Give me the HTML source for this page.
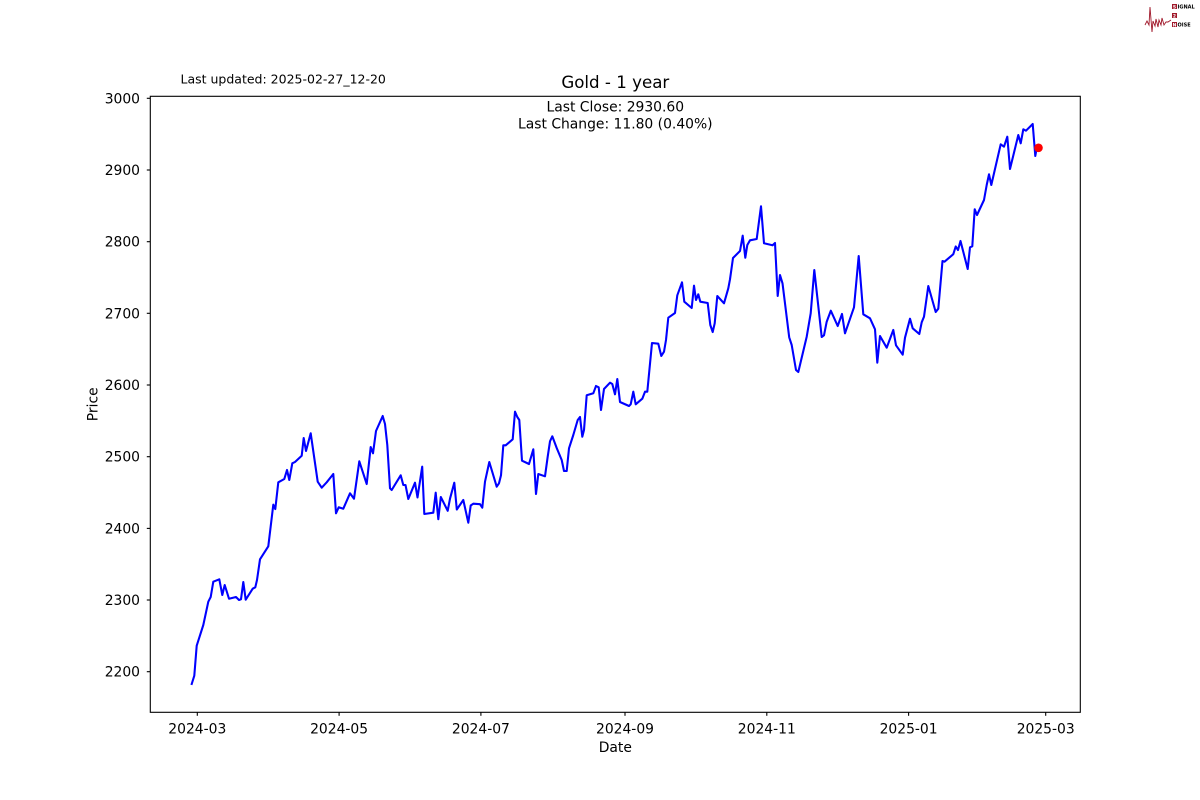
<!DOCTYPE html>
<html><head><meta charset="utf-8"><style>
html,body{margin:0;padding:0;background:#fff;}
svg{display:block;}
text{font-family:"DejaVu Sans","Liberation Sans",sans-serif;fill:#000;}
</style></head><body>
<svg width="1200" height="800" viewBox="0 0 1200 800" xmlns="http://www.w3.org/2000/svg">
<rect width="1200" height="800" fill="#fff"/>
<!-- logo -->
<g>
<polyline points="1145,25 1147,21 1149,25 1150,7 1152,32 1153,21 1155,26 1156,19 1158,27 1159,20 1161,25 1162,18 1164,25 1166,22 1168,22 1171,20" fill="none" stroke="#a0182a" stroke-width="0.9"/>
<rect x="1172" y="4" width="5" height="5" fill="#a0182a"/>
<rect x="1172" y="13" width="5" height="5" fill="#a0182a"/>
<rect x="1172" y="22" width="5" height="5" fill="#a0182a"/>
<text x="1174.5" y="8.3" font-size="4.5" text-anchor="middle" style="fill:#fff;font-weight:bold">S</text>
<text x="1174.5" y="17.3" font-size="4.5" text-anchor="middle" style="fill:#fff;font-weight:bold">2</text>
<text x="1174.5" y="26.3" font-size="4.5" text-anchor="middle" style="fill:#fff;font-weight:bold">N</text>
<text x="1177.5" y="8.5" font-size="5" style="font-weight:bold">IGNAL</text>
<text x="1177.5" y="26.5" font-size="5" style="font-weight:bold">OISE</text>
</g>

<!-- texts top -->
<text x="180.5" y="83.3" font-size="12.5">Last updated: 2025-02-27_12-20</text>
<text x="615.3" y="88" font-size="16.67" text-anchor="middle">Gold - 1 year</text>
<text x="615.3" y="111.7" font-size="13.89" text-anchor="middle">Last Close: 2930.60</text>
<text x="615.3" y="128.7" font-size="13.89" text-anchor="middle">Last Change: 11.80 (0.40%)</text>

<!-- data line -->
<polyline fill="none" stroke="#0000ff" stroke-width="2.08" stroke-linejoin="round" stroke-linecap="square" points="
191.7,684 194.3,675.7 196.7,645.7 203.3,625 208.3,601.7 210.7,597 213.3,581.7 219.3,579.3 222.3,595 224.7,585 229,598.7 236,597 239,600 241,599.3 243.3,582 245.7,599.7 252.7,588.7 255.3,587.3 257,580 260,559.3 268.3,546.3 273.3,504.7 275.3,509 278.3,482.3 284.3,479 287,470 289.3,480 292.3,463.3 295,462 301.7,455.7 303.7,438 306,451 310.7,433.3 317.7,481.7 321.7,487.7 326.7,482.3 333.3,474 336,513.3 338.7,507.3 343.3,508.7 350,493.3 354,498.7 359.3,461.3 366.7,484 370.7,447 373,453.3 376,431 382.7,416 385,424 387.3,445 390,488.3 391.7,490 400.7,475.3 403.3,485 405.5,485 408.3,499 415,482.7 417.5,497.5 422.2,466.7 424.3,514 433.3,512.7 435.7,492.7 438.3,519.2 440.8,497 447.7,510.8 450,498.7 454.3,482.7 456.8,509.5 463.3,500 468.3,522.7 470.7,505.5 473.3,503.7 480,504.2 482.3,507.7 485,481.7 489.3,462 496.7,486.7 499,483.3 501,475.3 503.3,445.3 505.7,445.3 512.7,439.3 515,411.7 517.3,417 519.3,420 522,460.7 529,464 533.3,449.3 536,494 538.3,474 545,476.3 547.7,456.7 550,441.3 552.3,436.3 556.7,448 561.7,460 564,471 566.7,471 569,448.3 573.3,435 577.7,420 580,417 582.3,436.7 584,430 586.7,395.3 593.3,393.3 596,386 598.7,387.3 601,410 604,389 610,382.7 612.3,384 615,394.3 617.3,379 620,402 629,406 630.7,404.3 633.3,391.7 635.7,404.3 642.3,398.7 645,391.7 647.3,391.7 652,343 658.3,343.7 661.3,356 664,351.7 666,340 668.3,317.7 675,313 677.3,295.3 682,282.3 684.3,301.7 691.7,308 694,285.7 696,300 698.3,294.3 700.3,301.7 707.7,303 710.3,325 712.7,332 714.7,323.3 717.3,296 724,303.3 728.3,288.3 730,279.3 733,258 740,251 742.7,235.7 745.3,257.7 747.3,245 750,240.3 756.7,239 761,206.3 764,243.3 772.5,245.3 775,243 777.7,296 780,275 782.5,283.3 789.2,337.3 791.7,345 796,370 798.3,372 806.7,336.7 810.7,313.3 814.3,270 821.7,337 824,335.3 826.7,321.7 830.8,310.7 837.7,326 842,314 845,333.3 854,307.3 858.7,256 863.3,314.3 870,318.3 875,329.3 877.3,362.7 880,336 886.7,347.7 893.3,330 896,345.3 902.7,354.7 905,337.7 910,318.7 912.7,328.3 919.3,334 921.7,322.3 924,316.7 928.3,286 935.7,312 938.3,308.7 942.5,261 944.5,261.7 953.3,254.2 955.7,246.5 958,250 960.5,241 967.7,269 970,247.3 972.3,246.3 974.7,209.3 977,215 984,200 986.7,185 989,174.3 991.3,185 1000.7,144.3 1004,146.7 1007.3,136.7 1010,169 1018.3,135 1020.7,143.3 1023.3,129.3 1026,130.7 1032.7,124 1035.3,156 1036.7,148.3 1038.3,147.8"/>
<circle cx="1038.5" cy="147.8" r="4.3" fill="#ff0000"/>

<!-- axes frame -->
<rect x="150.3" y="96.3" width="930" height="616" fill="none" stroke="#000" stroke-width="1.1"/>

<!-- y ticks -->
<g stroke="#000" stroke-width="1.1">
<line x1="146.8" y1="98.3" x2="150.3" y2="98.3"/>
<line x1="146.8" y1="170" x2="150.3" y2="170"/>
<line x1="146.8" y1="241.7" x2="150.3" y2="241.7"/>
<line x1="146.8" y1="313.3" x2="150.3" y2="313.3"/>
<line x1="146.8" y1="385" x2="150.3" y2="385"/>
<line x1="146.8" y1="456.7" x2="150.3" y2="456.7"/>
<line x1="146.8" y1="528.4" x2="150.3" y2="528.4"/>
<line x1="146.8" y1="600" x2="150.3" y2="600"/>
<line x1="146.8" y1="671.7" x2="150.3" y2="671.7"/>
</g>
<g font-size="13.89" text-anchor="end">
<text x="140" y="103.3">3000</text>
<text x="140" y="175">2900</text>
<text x="140" y="246.7">2800</text>
<text x="140" y="318.3">2700</text>
<text x="140" y="390">2600</text>
<text x="140" y="461.7">2500</text>
<text x="140" y="533.4">2400</text>
<text x="140" y="605">2300</text>
<text x="140" y="676.7">2200</text>
</g>

<!-- x ticks -->
<g stroke="#000" stroke-width="1.1">
<line x1="197.3" y1="712.3" x2="197.3" y2="715.8"/>
<line x1="339.1" y1="712.3" x2="339.1" y2="715.8"/>
<line x1="480.9" y1="712.3" x2="480.9" y2="715.8"/>
<line x1="625" y1="712.3" x2="625" y2="715.8"/>
<line x1="766.8" y1="712.3" x2="766.8" y2="715.8"/>
<line x1="908.6" y1="712.3" x2="908.6" y2="715.8"/>
<line x1="1045.7" y1="712.3" x2="1045.7" y2="715.8"/>
</g>
<g font-size="13.89" text-anchor="middle">
<text x="197.3" y="733.3">2024-03</text>
<text x="339.1" y="733.3">2024-05</text>
<text x="480.9" y="733.3">2024-07</text>
<text x="625" y="733.3">2024-09</text>
<text x="766.8" y="733.3">2024-11</text>
<text x="908.6" y="733.3">2025-01</text>
<text x="1045.7" y="733.3">2025-03</text>
</g>

<text x="615.3" y="752" font-size="13.89" text-anchor="middle">Date</text>
<text transform="translate(97.5,404.3) rotate(-90)" font-size="13.89" text-anchor="middle">Price</text>
</svg>
</body></html>
